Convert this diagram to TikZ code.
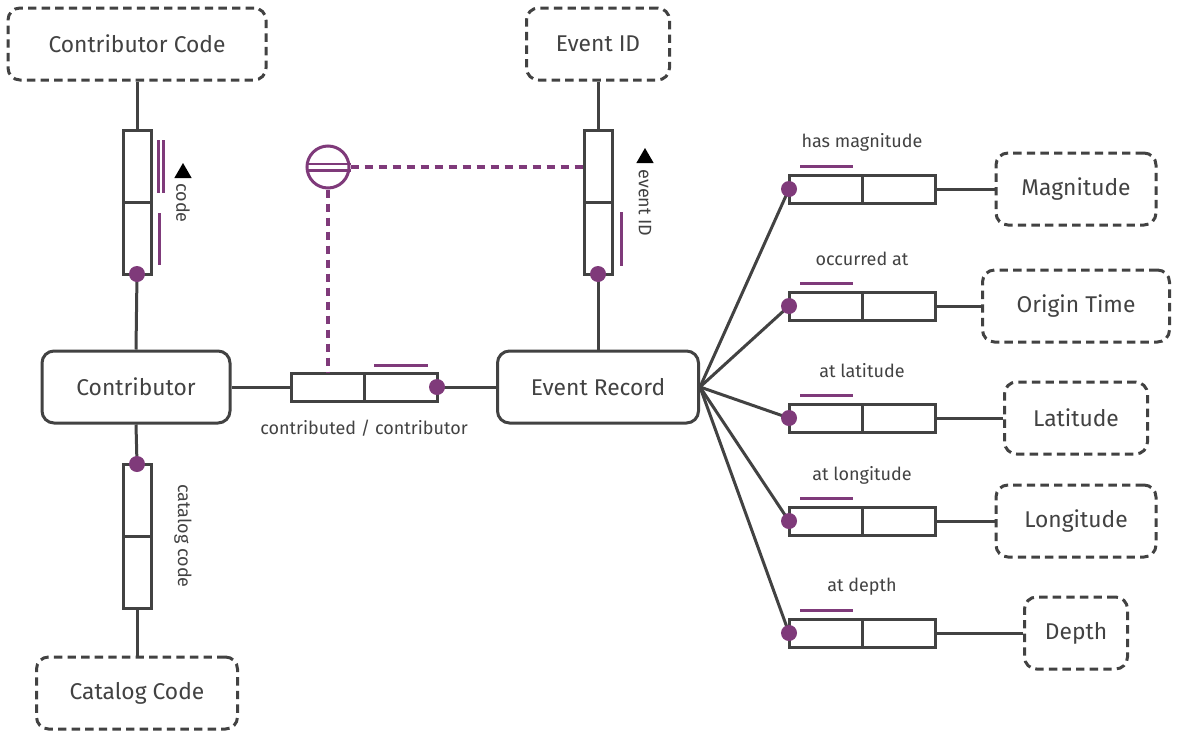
\documentclass[tikz,border=0pt]{standalone}
\usepackage{fontspec}
\setmainfont{Fira Sans}
\usetikzlibrary{positioning,shapes.geometric}
\definecolor{cLine}{HTML}{424242}
\definecolor{cRole}{HTML}{7F3A7A}

\begin{document}
\begin{tikzpicture}[x=0.5pt,y=-0.5pt,font=\fontsize{11.4}{13}\selectfont,
  ent/.style={draw=cLine,line width=1.5pt,rounded corners=6pt,minimum height=36pt,text=cLine,inner sep=2pt,fill=white},
  val/.style={ent,dash pattern=on 4.2pt off 2.6pt},
  vrole/.style={draw=cLine,line width=1.5pt,fill=white,minimum width=14pt,minimum height=36pt,inner sep=0pt,outer sep=0pt},
  hrole/.style={vrole,minimum width=36.5pt,minimum height=14pt},
  dot/.style={circle,fill=cRole,minimum size=8pt,inner sep=0pt},
  ln/.style={draw=cLine,line width=1.5pt},
  uq/.style={cRole,line width=1.5pt},
  cons/.style={cRole,line width=1.6pt,dash pattern=on 4pt off 3pt},
  lbl/.style={text=cLine,font=\fontsize{9}{11}\selectfont,inner sep=0pt},
  tri/.style={regular polygon,regular polygon sides=3,fill=black,minimum size=10pt,inner sep=0pt}]
  \useasboundingbox (0,0) rectangle (1177,734);
  % entity and value types
  \node[val,minimum width=129pt] (ccode) at (137,44) {Contributor Code};
  \node[val,minimum width=71.5pt] (eid) at (598,44) {Event ID};
  \node[ent,minimum width=94pt] (contrib) at (136,387) {Contributor};
  \node[ent,minimum width=100.5pt] (evrec) at (598,387) {Event Record};
  \node[val,minimum width=100.5pt] (catcode) at (137,693) {Catalog Code};
  \node[val,minimum width=80pt] (mag) at (1076,189) {Magnitude};
  \node[val,minimum width=93.5pt] (otime) at (1076,306) {Origin Time};
  \node[val,minimum width=71.5pt] (lat) at (1076,418) {Latitude};
  \node[val,minimum width=80pt] (lon) at (1076,521) {Longitude};
  \node[val,minimum width=51.5pt] (dep) at (1076,633) {Depth};
  % vertical fact types
  \node[vrole] (codeA) at (137,166) {};
  \node[vrole,below=0pt of codeA] (codeB) {};
  \node[vrole] (eidA) at (598,166) {};
  \node[vrole,below=0pt of eidA] (eidB) {};
  \node[vrole] (catA) at (137,500) {};
  \node[vrole,below=0pt of catA] (catB) {};
  % horizontal fact types
  \node[hrole] (cbA) at (327.5,387) {};
  \node[hrole,right=0pt of cbA] (cbB) {};
  \node[hrole] (magA) at (825.5,189) {};
  \node[hrole,right=0pt of magA] (magB) {};
  \node[hrole] (otA) at (825.5,306) {};
  \node[hrole,right=0pt of otA] (otB) {};
  \node[hrole] (latA) at (825.5,418) {};
  \node[hrole,right=0pt of latA] (latB) {};
  \node[hrole] (lonA) at (825.5,521) {};
  \node[hrole,right=0pt of lonA] (lonB) {};
  \node[hrole] (depA) at (825.5,633) {};
  \node[hrole,right=0pt of depA] (depB) {};
  % connectors
  \draw[ln] (ccode.south) -- (codeA.north);
  \draw[ln] (codeB.south) -- (contrib.north);
  \draw[ln] (eid.south) -- (eidA.north);
  \draw[ln] (eidB.south) -- (evrec.north);
  \draw[ln] (contrib.south) -- (catA.north);
  \draw[ln] (catB.south) -- (catcode.north);
  \draw[ln] (contrib.east) -- (cbA.west);
  \draw[ln] (cbB.east) -- (evrec.west);
  \draw[ln] (evrec.east) -- (magA.west);
  \draw[ln] (evrec.east) -- (otA.west);
  \draw[ln] (evrec.east) -- (latA.west);
  \draw[ln] (evrec.east) -- (lonA.west);
  \draw[ln] (evrec.east) -- (depA.west);
  \draw[ln] (magB.east) -- (mag.west);
  \draw[ln] (otB.east) -- (otime.west);
  \draw[ln] (latB.east) -- (lat.west);
  \draw[ln] (lonB.east) -- (lon.west);
  \draw[ln] (depB.east) -- (dep.west);
  % mandatory dots
  \node[dot] (codedot) at (codeB.south) {};
  \node[dot] (eiddot) at (eidB.south) {};
  \node[dot] (catdot) at (catA.north) {};
  \node[dot] (cbdot) at (cbB.east) {};
  \node[dot] (magdot) at (magA.west) {};
  \node[dot] (otdot) at (otA.west) {};
  \node[dot] (latdot) at (latA.west) {};
  \node[dot] (londot) at (lonA.west) {};
  \node[dot] (depdot) at (depA.west) {};
  % uniqueness bars
  \draw[uq] ([xshift=3.5pt,yshift=-5pt]codeA.north east) -- ([xshift=3.5pt,yshift=4.5pt]codeA.south east);
  \draw[uq] ([xshift=6pt,yshift=-5pt]codeA.north east) -- ([xshift=6pt,yshift=4.5pt]codeA.south east);
  \draw[uq] ([xshift=4pt,yshift=-5.5pt]codeB.north east) -- ([xshift=4pt,yshift=4.5pt]codeB.south east);
  \draw[uq] ([xshift=4.5pt,yshift=-5pt]eidB.north east) -- ([xshift=4.5pt,yshift=4pt]eidB.south east);
  \draw[uq] ([xshift=5pt,yshift=4pt]cbB.north west) -- ([xshift=-4.5pt,yshift=4pt]cbB.north east);
  \draw[uq] ([xshift=5.5pt,yshift=4.5pt]magA.north west) -- ([xshift=-4.5pt,yshift=4.5pt]magA.north east);
  \draw[uq] ([xshift=5.5pt,yshift=4.5pt]otA.north west) -- ([xshift=-4.5pt,yshift=4.5pt]otA.north east);
  \draw[uq] ([xshift=5.5pt,yshift=4.5pt]latA.north west) -- ([xshift=-4.5pt,yshift=4.5pt]latA.north east);
  \draw[uq] ([xshift=5.5pt,yshift=4.5pt]lonA.north west) -- ([xshift=-4.5pt,yshift=4.5pt]lonA.north east);
  \draw[uq] ([xshift=5.5pt,yshift=4.5pt]depA.north west) -- ([xshift=-4.5pt,yshift=4.5pt]depA.north east);
  % external equality constraint
  \node[circle,draw=cRole,line width=1.5pt,minimum size=21pt,inner sep=0pt,fill=white] (eqc) at (328,167) {};
  \draw[uq,line width=1.3pt] ([yshift=1.6pt]eqc.west) -- ([yshift=1.6pt]eqc.east);
  \draw[uq,line width=1.3pt] ([yshift=-1.6pt]eqc.west) -- ([yshift=-1.6pt]eqc.east);
  \draw[cons] (eqc.east) -- (eqc.east -| eidA.west);
  \draw[cons] (eqc.south) -- (eqc.south |- cbA.north);
  % reading labels
  \node[tri] (codetri) at (183,173) {};
  \node[lbl,rotate=-90] (codelbl) at (183,203) {code};
  \node[tri] (eidtri) at (645,158) {};
  \node[lbl,rotate=-90] (eidlbl) at (645,203) {event ID};
  \node[lbl,rotate=-90] (catlbl) at (183,536) {catalog code};
  \node[lbl] (cblbl) at (364,428) {contributed / contributor};
  \node[lbl] (maglbl) at (862,142) {has magnitude};
  \node[lbl] (otlbl) at (862,259) {occurred at};
  \node[lbl] (latlbl) at (862,371) {at latitude};
  \node[lbl] (lonlbl) at (862,475) {at longitude};
  \node[lbl] (deplbl) at (862,587) {at depth};
\end{tikzpicture}
\end{document}
